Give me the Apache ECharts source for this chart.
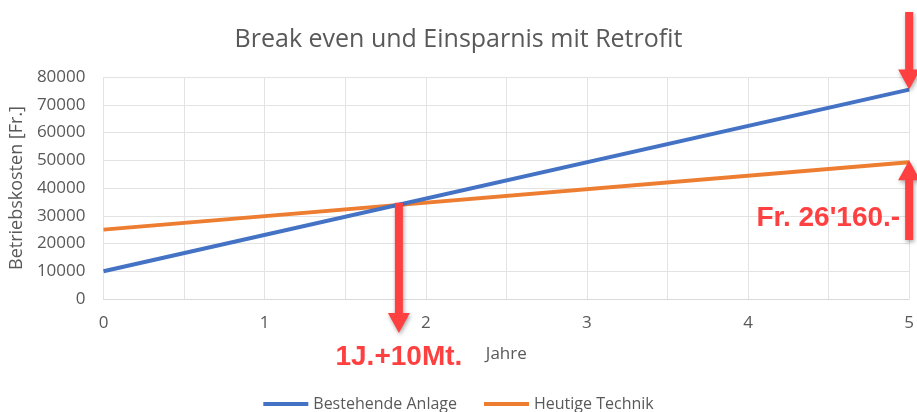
<!DOCTYPE html>
<html>
<head>
<meta charset="utf-8">
<script src="https://cdn.jsdelivr.net/npm/echarts@6/dist/echarts.min.js"></script>
<style>html,body{margin:0;padding:0;background:#fff}#c{width:917px;height:412px}</style>
</head>
<body>
<div id="c"></div>
<script>
var titleText = 'Break even und Einsparnis mit Retrofit';
var seriesNames = ['Bestehende Anlage', 'Heutige Technik'];
var years = [0, 5];
var bestehende = [10000, 75460];
var heutige = [25000, 49300];
var breakEvenYear = 1 + 10 / 12;
var breakEvenLabel = '1J.+10Mt.';
var savingLabel = "Fr. 26'160.-";
var xName = 'Jahre';
var yName = 'Betriebskosten [Fr.]';

var font = '"Open Sans", "DejaVu Sans", sans-serif';
var grey = '#595959';
var red = '#ff4040';

function pairs(xs, ys) { return xs.map(function (x, i) { return [x, ys[i]]; }); }

var chart = echarts.init(document.getElementById('c'));
chart.setOption({
  animation: false,
  title: {
    text: titleText, left: 'center', top: 22,
    textStyle: { fontFamily: font, fontSize: 25, fontWeight: 'normal', color: grey }
  },
  grid: { left: 101, right: 2, top: 77, bottom: 113, containLabel: false },
  legend: {
    bottom: -5, left: 'center', itemWidth: 45, itemHeight: 4, itemGap: 27, icon: 'rect',
    textStyle: { fontFamily: font, fontSize: 16, color: grey },
    data: seriesNames
  },
  xAxis: {
    type: 'value', min: 0, max: 5, interval: 0.5,
    name: xName, nameLocation: 'middle', nameGap: 47,
    nameTextStyle: { fontFamily: font, fontSize: 17, color: grey },
    axisLine: { show: true, lineStyle: { color: '#d9d9d9', width: 1 } },
    axisTick: { show: false },
    axisLabel: {
      fontFamily: font, fontSize: 17, color: grey, margin: 16,
      formatter: function (v) { return Math.abs(v - Math.round(v)) < 1e-9 ? String(Math.round(v)) : ''; }
    },
    splitLine: { show: true, lineStyle: { color: '#e3e3e3', width: 1 } }
  },
  yAxis: {
    type: 'value', min: 0, max: 80000, interval: 10000,
    name: yName, nameLocation: 'middle', nameGap: 76, nameRotate: 90,
    nameTextStyle: { fontFamily: font, fontSize: 18, color: grey },
    axisLine: { show: false }, axisTick: { show: false },
    axisLabel: { fontFamily: font, fontSize: 17, color: grey, margin: 18,
      formatter: function (v) { return String(v); } },
    splitLine: { show: true, lineStyle: { color: '#e3e3e3', width: 1 } }
  },
  series: [
    { name: seriesNames[0], type: 'line', data: pairs(years, bestehende), showSymbol: false, symbol: 'none',
      lineStyle: { color: '#4472c4', width: 4 }, itemStyle: { color: '#4472c4' }, z: 3 },
    { name: seriesNames[1], type: 'line', data: pairs(years, heutige), showSymbol: false, symbol: 'none',
      lineStyle: { color: '#ed7d31', width: 4 }, itemStyle: { color: '#ed7d31' }, z: 2 }
  ]
});

function interp(xs, ys, x) {
  var t = (x - xs[0]) / (xs[xs.length - 1] - xs[0]);
  return ys[0] + t * (ys[ys.length - 1] - ys[0]);
}
function arrow(x, y0, y1) {
  var dir = y1 > y0 ? 1 : -1, hw = 4, hh = 11, hl = 20;
  var b = y1 - dir * hl;
  return {
    type: 'polygon', z: 100,
    shape: { points: [[x - hw, y0], [x + hw, y0], [x + hw, b], [x + hh, b], [x, y1], [x - hh, b], [x - hw, b]] },
    style: { fill: red, shadowBlur: 4, shadowColor: 'rgba(0,0,0,0.35)', shadowOffsetX: 1, shadowOffsetY: 2 }
  };
}
var lastYear = years[years.length - 1];
var pBE = chart.convertToPixel({ gridIndex: 0 }, [breakEvenYear, interp(years, bestehende, breakEvenYear)]);
var p0 = chart.convertToPixel({ gridIndex: 0 }, [0, 0]);
var pB5 = chart.convertToPixel({ gridIndex: 0 }, [lastYear, bestehende[bestehende.length - 1]]);
var pH5 = chart.convertToPixel({ gridIndex: 0 }, [lastYear, heutige[heutige.length - 1]]);

chart.setOption({
  graphic: [
    arrow(pBE[0], pBE[1] - 2, p0[1] + 34),
    arrow(pB5[0], 12, pB5[1]),
    arrow(pH5[0], 240, pH5[1] - 2),
    { type: 'text', z: 101, style: { text: breakEvenLabel, x: pBE[0], y: p0[1] + 58,
      font: 'bold 28px "Liberation Sans", Arial, sans-serif', fill: red,
      align: 'center', verticalAlign: 'middle', textAlign: 'center', textVerticalAlign: 'middle' } },
    { type: 'text', z: 101, style: { text: savingLabel, x: pH5[0] - 9, y: 218,
      font: 'bold 28px "Liberation Sans", Arial, sans-serif', fill: red,
      align: 'right', verticalAlign: 'middle', textAlign: 'right', textVerticalAlign: 'middle' } }
  ]
});
</script>
</body>
</html>
